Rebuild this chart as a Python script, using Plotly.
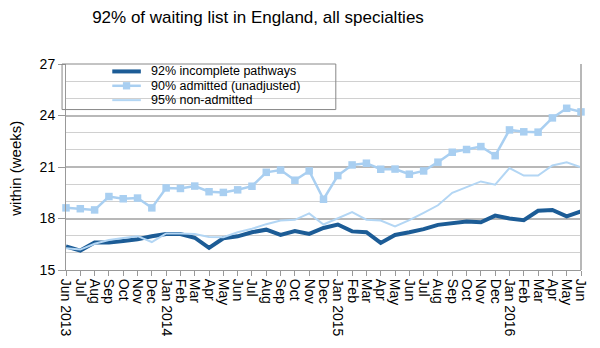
import plotly.graph_objects as go

months = ["Jun 2013", "Jul", "Aug", "Sep", "Oct", "Nov", "Dec",
          "Jan 2014", "Feb", "Mar", "Apr", "May", "Jun", "Jul", "Aug", "Sep", "Oct", "Nov", "Dec",
          "Jan 2015", "Feb", "Mar", "Apr", "May", "Jun", "Jul", "Aug", "Sep", "Oct", "Nov", "Dec",
          "Jan 2016", "Feb", "Mar", "Apr", "May", "Jun"]

incomplete = [16.37, 16.13, 16.6, 16.6, 16.69, 16.79, 16.97,
              17.1, 17.1, 16.88, 16.29, 16.85, 16.96, 17.2, 17.35, 17.05, 17.27, 17.1, 17.45,
              17.65, 17.25, 17.2, 16.58, 17.04, 17.2, 17.38, 17.63, 17.73, 17.83, 17.78, 18.17,
              18.0, 17.9, 18.45, 18.5, 18.12, 18.42]

admitted = [18.62, 18.57, 18.5, 19.28, 19.15, 19.19, 18.62,
            19.78, 19.75, 19.89, 19.56, 19.52, 19.67, 19.88, 20.69, 20.82, 20.23, 20.77, 19.12,
            20.5, 21.12, 21.22, 20.87, 20.88, 20.58, 20.77, 21.28, 21.86, 22.02, 22.19, 21.66,
            23.16, 23.05, 23.03, 23.86, 24.42, 24.21]

nonadmitted = [16.27, 16.19, 16.53, 16.75, 16.87, 16.97, 16.63,
               17.13, 17.13, 17.09, 16.92, 16.91, 17.2, 17.4, 17.67, 17.88, 17.92, 18.3, 17.65,
               17.99, 18.37, 17.93, 17.88, 17.54, 17.9, 18.33, 18.77, 19.5, 19.81, 20.16, 19.97,
               20.94, 20.5, 20.5, 21.09, 21.27, 20.98]

series_names = ["92% incomplete pathways", "90% admitted (unadjusted)", "95% non-admitted"]

DARK = "#1c5c96"
ADM = "#a9cff1"
NON = "#b3d6f4"

# plot area in pixels (for layout helpers)
L, R, T, B = 66, 589, 64, 272
W, H = 600, 348


def px(xp):
    return (xp - L) / (R - L)


def py(yp):
    return (B - yp) / (B - T)


x = list(range(len(months)))

fig = go.Figure()
fig.add_trace(go.Scatter(x=x, y=incomplete, mode="lines", name=series_names[0],
                         line=dict(color=DARK, width=4), cliponaxis=False))
fig.add_trace(go.Scatter(x=x, y=admitted, mode="lines+markers", name=series_names[1],
                         line=dict(color=ADM, width=2.5),
                         marker=dict(symbol="square", size=7.5, color=ADM), cliponaxis=False))
fig.add_trace(go.Scatter(x=x, y=nonadmitted, mode="lines", name=series_names[2],
                         line=dict(color=NON, width=2), cliponaxis=False))

# manual legend
rows = [71.5, 86, 100.5]
shapes = [
    dict(type="rect", xref="paper", yref="paper", x0=px(62), x1=px(340),
         y0=py(64), y1=py(110), line=dict(color="#888888", width=1)),
    dict(type="line", xref="paper", yref="paper", x0=1, x1=1, y0=0, y1=1,
         line=dict(color="#b8b8b8", width=2)),
    dict(type="line", xref="paper", yref="paper", x0=px(113), x1=px(142),
         y0=py(rows[0]), y1=py(rows[0]), line=dict(color=DARK, width=4)),
    dict(type="line", xref="paper", yref="paper", x0=px(113), x1=px(142),
         y0=py(rows[1]), y1=py(rows[1]), line=dict(color=ADM, width=2.5)),
    dict(type="rect", xref="paper", yref="paper", x0=px(123.8), x1=px(131.2),
         y0=py(rows[1] + 3.7), y1=py(rows[1] - 3.7), line=dict(width=0), fillcolor=ADM),
    dict(type="line", xref="paper", yref="paper", x0=px(113), x1=px(142),
         y0=py(rows[2]), y1=py(rows[2]), line=dict(color=NON, width=2)),
]
annotations = [
    dict(xref="paper", yref="paper", x=px(150), y=py(r), text=n, showarrow=False,
         xanchor="left", yanchor="middle", font=dict(size=12.5))
    for n, r in zip(series_names, rows)
]
annotations.append(dict(xref="paper", yref="paper", x=px(15), y=py(170), text="within (weeks)",
                        textangle=-90, showarrow=False, xanchor="center", yanchor="middle",
                        font=dict(size=15)))

fig.update_layout(
    width=W, height=H,
    margin=dict(l=L, r=W - R, t=T, b=H - B),
    paper_bgcolor="white", plot_bgcolor="white",
    font=dict(family="Liberation Sans, Arial, sans-serif", color="black"),
    title=dict(text="92% of waiting list in England, all specialties", x=258 / W, xanchor="center",
               y=1 - 17 / H, yanchor="middle", font=dict(size=17)),
    showlegend=False,
    xaxis=dict(tickmode="array", tickvals=x, ticktext=months, range=[0, len(months) - 1],
               tickangle=90, tickfont=dict(size=14), ticks="outside", ticklen=5,
               tickcolor="#999999", showgrid=False, showline=True, linecolor="#999999",
               linewidth=1, zeroline=False),
    yaxis=dict(range=[15, 27], dtick=3, tick0=15, tickfont=dict(size=14), ticks="outside",
               ticklen=7, tickcolor="#999999", showline=True, linecolor="#999999",
               gridcolor="#b8b8b8", gridwidth=2,
               minor=dict(dtick=1, showgrid=True, gridcolor="#d0d0d0", gridwidth=1),
               zeroline=False),
    shapes=shapes,
    annotations=annotations,
)

fig.write_html("out.html")
